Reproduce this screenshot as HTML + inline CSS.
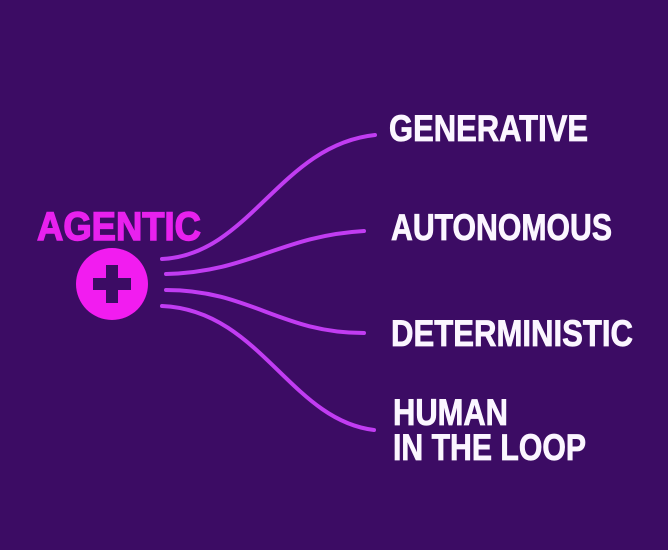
<!DOCTYPE html>
<html><head><style>html,body{margin:0;padding:0;background:#3c0c64;}svg{display:block}</style></head>
<body>
<svg width="668" height="550" viewBox="0 0 668 550" xmlns="http://www.w3.org/2000/svg">
<rect width="668" height="550" fill="#3c0c64"/>
<g fill="none" stroke="#c13cf2" stroke-width="4" stroke-linecap="round">
<path d="M162 259 C250 255 280 145 375 135"/>
<path d="M166 274 C250 272 280 236 364 231"/>
<path d="M166 290 C250 290 280 333 364 333"/>
<path d="M162 306 C260 310 290 420 374 430"/>
</g>
<text x="37" y="240" font-family="Liberation Sans, sans-serif" font-weight="bold" font-size="40" fill="#e821ee" stroke="#e821ee" stroke-width="1.4" textLength="164" lengthAdjust="spacingAndGlyphs">AGENTIC</text>
<circle cx="112" cy="284" r="36" fill="#f21cf0"/>
<rect x="93" y="278" width="38" height="12" fill="#3c0c64"/>
<rect x="106" y="265" width="12" height="38" fill="#3c0c64"/>
<g font-family="Liberation Sans, sans-serif" font-weight="bold" font-size="37" fill="#fbf6ff" stroke="#fbf6ff" stroke-width="0.8">
<text x="389" y="141" textLength="199" lengthAdjust="spacingAndGlyphs">GENERATIVE</text>
<text x="391" y="240" textLength="221" lengthAdjust="spacingAndGlyphs">AUTONOMOUS</text>
<text x="391" y="346" textLength="242" lengthAdjust="spacingAndGlyphs">DETERMINISTIC</text>
<text x="393" y="425" textLength="115" lengthAdjust="spacingAndGlyphs">HUMAN</text>
<text x="393" y="460" textLength="193" lengthAdjust="spacingAndGlyphs">IN THE LOOP</text>
</g>
</svg>
</body></html>
